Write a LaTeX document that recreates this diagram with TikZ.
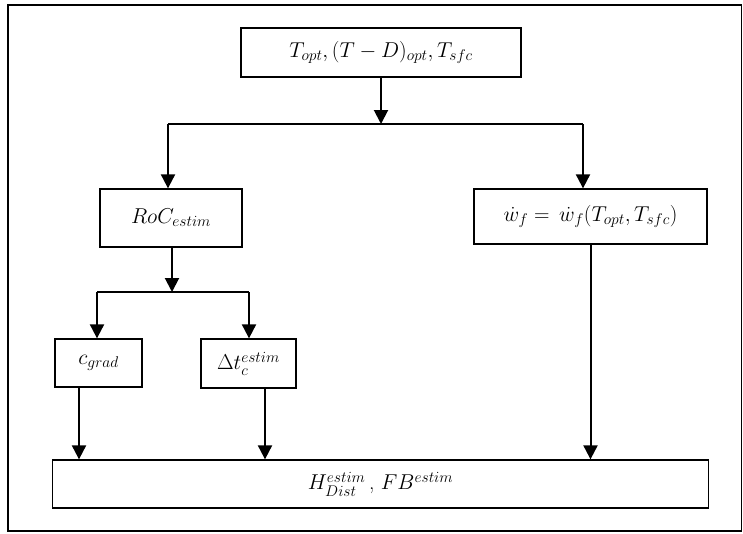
\RequirePackage{fix-cm}
\documentclass[tikz,border=0pt]{standalone}
\usepackage{tikz}
\usetikzlibrary{arrows.meta}
\usepackage{amsmath}
\usepackage{amssymb}
\DeclareMathSizes{21.5}{21.5}{15.5}{11}

\tikzset{
  block/.style = {draw, line width=1.3pt, inner sep=0pt, font=\fontsize{21.5}{25}\selectfont},
  link/.style = {draw, line width=2pt},
  flow/.style = {link, -{Triangle[length=14pt, width=14pt]}}
}

\begin{document}
\begin{tikzpicture}[x=1pt, y=-1pt]
  \useasboundingbox (0,0) rectangle (743,533);

  % Frame
  \draw[line width=1.5pt] (8,5) rectangle (741.5,531);

  % Top block
  \node[block, minimum width=280pt, minimum height=49pt] (opt) at (381,52.5) {$T_{opt}, (T-D)_{opt}, T_{sfc}$};

  % Middle blocks
  \node[block, minimum width=142pt, minimum height=58pt] (roc) at (171,218) {$RoC_{estim}$};
  \node[block, minimum width=233pt, minimum height=55pt] (wf) at (590.5,216.5) {$\dot{w}_f = \,\dot{w}_f(T_{opt}, T_{sfc})$};

  % Lower blocks
  \node[block, minimum width=87pt, minimum height=48pt] (cgrad) at (98.5,363) {$c_{grad}$};
  \node[block, minimum width=95pt, minimum height=49pt] (dtc) at (248.5,363.5) {$\Delta t_c^{estim}$};

  % Result block
  \node[block, minimum width=656pt, minimum height=48pt] (hd) at (380.5,484) {$H_{Dist}^{estim}$\,, $FB^{estim}$};

  % First split
  \coordinate (split) at (381,124);
  \coordinate (sl) at (168,124);
  \coordinate (sr) at (583,124);
  \draw[flow] (opt.south) -- (split);
  \draw[link] (sl) -- (sr);
  \draw[flow] (sl) -- (sl |- roc.north);
  \draw[flow] (sr) -- (sr |- wf.north);

  % Second split
  \coordinate (mid) at (172,292);
  \coordinate (ml) at (97,292);
  \coordinate (mr) at (249,292);
  \draw[flow] (mid |- roc.south) -- (mid);
  \draw[link] (ml) -- (mr);
  \draw[flow] (ml) -- (ml |- cgrad.north);
  \draw[flow] (mr) -- (mr |- dtc.north);

  % Into result
  \coordinate (ca) at (79,387);
  \coordinate (da) at (265,388);
  \draw[flow] (ca) -- (ca |- hd.north);
  \draw[flow] (da) -- (da |- hd.north);
  \draw[flow] (wf.south) -- (wf.south |- hd.north);
\end{tikzpicture}
\end{document}
